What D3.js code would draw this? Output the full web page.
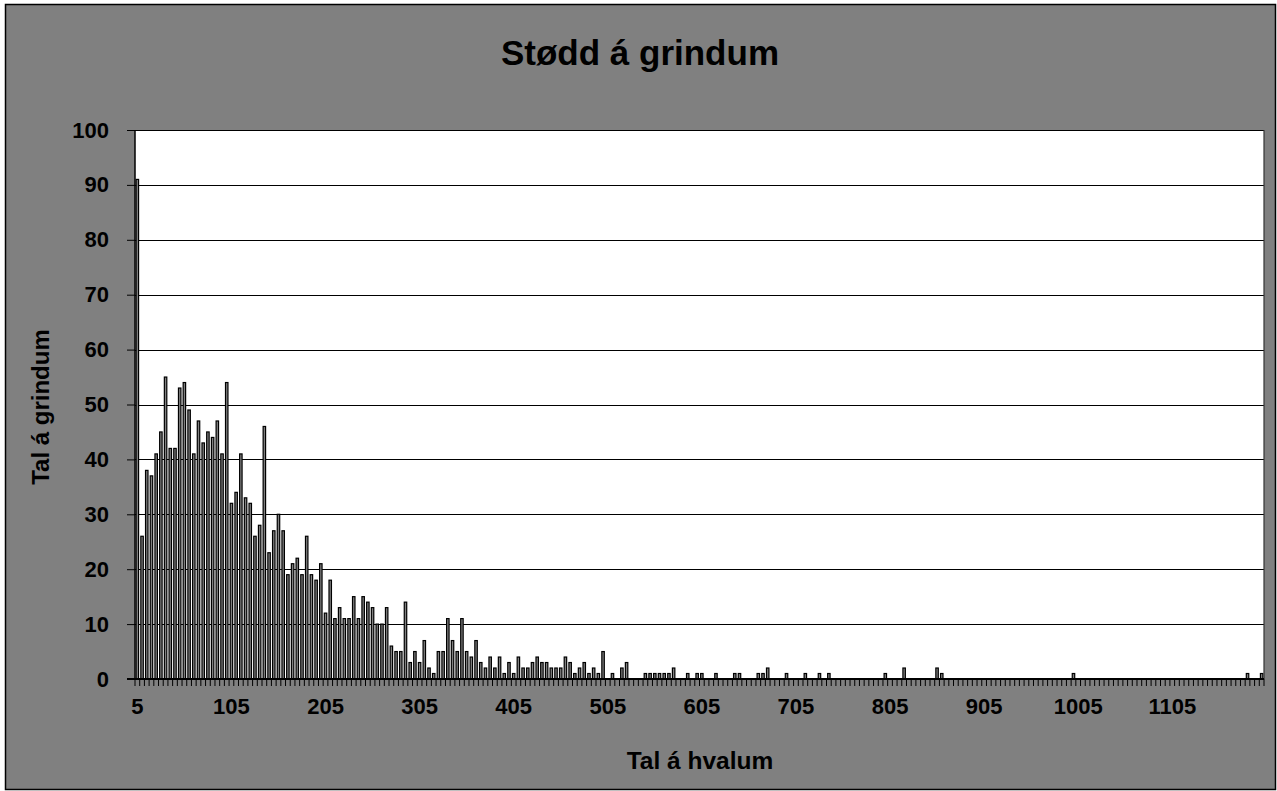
<!DOCTYPE html>
<html>
<head>
<meta charset="utf-8">
<script src="https://cdn.jsdelivr.net/npm/d3@7"></script>
<style>
  body { margin: 0; background: #fff; }
  text { font-family: "Liberation Sans", Arial, sans-serif; font-weight: bold; fill: #000; }
</style>
</head>
<body>
<div id="chart"></div>
<script>
// --- data ---
const chartTitle = "Stødd á grindum";
const xTitle = "Tal á hvalum";
const yTitle = "Tal á grindum";

// size classes of the grind (number of whales), step 5
const categories = d3.range(5, 1201, 5);

// number of grinds in each size class
const counts = [
  91, 26, 38, 37, 41, 45, 55, 42, 42, 53, 54, 49, 41, 47, 43, 45, 44, 47, 41, 54,
  32, 34, 41, 33, 32, 26, 28, 46, 23, 27, 30, 27, 19, 21, 22, 19, 26, 19, 18, 21,
  12, 18, 11, 13, 11, 11, 15, 11, 15, 14, 13, 10, 10, 13, 6, 5, 5, 14, 3, 5,
  3, 7, 2, 1, 5, 5, 11, 7, 5, 11, 5, 4, 7, 3, 2, 4, 2, 4, 1, 3,
  1, 4, 2, 2, 3, 4, 3, 3, 2, 2, 2, 4, 3, 1, 2, 3, 1, 2, 1, 5,
  0, 1, 0, 2, 3, 0, 0, 0, 1, 1, 1, 1, 1, 1, 2, 0, 0, 1, 0, 1,
  1, 0, 0, 1, 0, 0, 0, 1, 1, 0, 0, 0, 1, 1, 2, 0, 0, 0, 1, 0,
  0, 0, 1, 0, 0, 1, 0, 1, 0, 0, 0, 0, 0, 0, 0, 0, 0, 0, 0, 1,
  0, 0, 0, 2, 0, 0, 0, 0, 0, 0, 2, 1, 0, 0, 0, 0, 0, 0, 0, 0,
  0, 0, 0, 0, 0, 0, 0, 0, 0, 0, 0, 0, 0, 0, 0, 0, 0, 0, 0, 1,
  0, 0, 0, 0, 0, 0, 0, 0, 0, 0, 0, 0, 0, 0, 0, 0, 0, 0, 0, 0,
  0, 0, 0, 0, 0, 0, 0, 0, 0, 0, 0, 0, 0, 0, 0, 0, 1, 0, 0, 1
];

const yTicks = [0, 10, 20, 30, 40, 50, 60, 70, 80, 90, 100];
const xLabels = [5, 105, 205, 305, 405, 505, 605, 705, 805, 905, 1005, 1105];

// --- layout ---
const W = 1277, H = 791;
const plot = { left: 135, right: 1264, top: 130, bottom: 679 };

const svg = d3.select("#chart").append("svg")
  .attr("width", W).attr("height", H);

// outer chart area
svg.append("rect")
  .attr("x", 5.5).attr("y", 4.5)
  .attr("width", 1270).attr("height", 785)
  .attr("fill", "#808080").attr("stroke", "#000").attr("stroke-width", 1.5);

const x = d3.scaleBand().domain(categories).range([plot.left, plot.right]).padding(0);
const y = d3.scaleLinear().domain([0, 100]).range([plot.bottom, plot.top]);

// plot area
svg.append("rect")
  .attr("x", plot.left).attr("y", plot.top)
  .attr("width", plot.right - plot.left).attr("height", plot.bottom - plot.top)
  .attr("fill", "#fff");

// gridlines
svg.append("g").selectAll("line")
  .data(yTicks.filter(d => d > 0))
  .join("line")
  .attr("x1", plot.left).attr("x2", plot.right)
  .attr("y1", d => Math.round(y(d)) + 0.5).attr("y2", d => Math.round(y(d)) + 0.5)
  .attr("stroke", "#000").attr("stroke-width", 1);

// bars
const bw = x.bandwidth() * 0.52;
svg.append("g").selectAll("rect")
  .data(categories.map((c, i) => ({ c, v: counts[i] })).filter(d => d.v > 0))
  .join("rect")
  .attr("x", d => x(d.c) + (x.bandwidth() - bw) / 2)
  .attr("y", d => y(d.v))
  .attr("width", bw)
  .attr("height", d => y(0) - y(d.v))
  .attr("fill", "#808080")
  .attr("stroke", "#000")
  .attr("stroke-width", 1.2);

// plot frame (left + right)
svg.append("line")
  .attr("x1", plot.left).attr("x2", plot.left)
  .attr("y1", plot.top).attr("y2", plot.bottom)
  .attr("stroke", "#000").attr("stroke-width", 1.5);
svg.append("line")
  .attr("x1", plot.right).attr("x2", plot.right)
  .attr("y1", plot.top).attr("y2", plot.bottom)
  .attr("stroke", "#333").attr("stroke-width", 1.2);

// y axis
const yAxis = svg.append("g")
  .attr("transform", `translate(${plot.left},0)`)
  .call(d3.axisLeft(y).tickValues(yTicks).tickSize(8).tickPadding(18));
yAxis.select(".domain").remove();
yAxis.selectAll(".tick line").attr("stroke", "#000");
yAxis.selectAll(".tick text")
  .attr("font-size", 22).attr("font-family", null)
  .style("font-family", "'Liberation Sans', Arial, sans-serif");

// x axis line
svg.append("line")
  .attr("x1", plot.left - 8).attr("x2", plot.right)
  .attr("y1", plot.bottom).attr("y2", plot.bottom)
  .attr("stroke", "#000").attr("stroke-width", 2);

// x ticks at category boundaries
const boundaries = categories.map(c => x(c)).concat([x(categories[categories.length - 1]) + x.step()]);
svg.append("g").selectAll("line")
  .data(boundaries)
  .join("line")
  .attr("x1", d => d).attr("x2", d => d)
  .attr("y1", plot.bottom).attr("y2", plot.bottom + 7)
  .attr("stroke", "#000").attr("stroke-width", 1);

// x tick labels
svg.append("g").selectAll("text")
  .data(xLabels)
  .join("text")
  .attr("x", d => x(d) + x.bandwidth() / 2)
  .attr("y", 714)
  .attr("text-anchor", "middle")
  .attr("font-size", 22)
  .text(d => d);

// titles
svg.append("text")
  .attr("x", 640).attr("y", 65)
  .attr("text-anchor", "middle")
  .attr("font-size", 35)
  .text(chartTitle);

svg.append("text")
  .attr("x", 700).attr("y", 769)
  .attr("text-anchor", "middle")
  .attr("font-size", 24.5)
  .text(xTitle);

svg.append("text")
  .attr("transform", "translate(49,407) rotate(-90)")
  .attr("text-anchor", "middle")
  .attr("font-size", 24)
  .text(yTitle);
</script>
</body>
</html>
